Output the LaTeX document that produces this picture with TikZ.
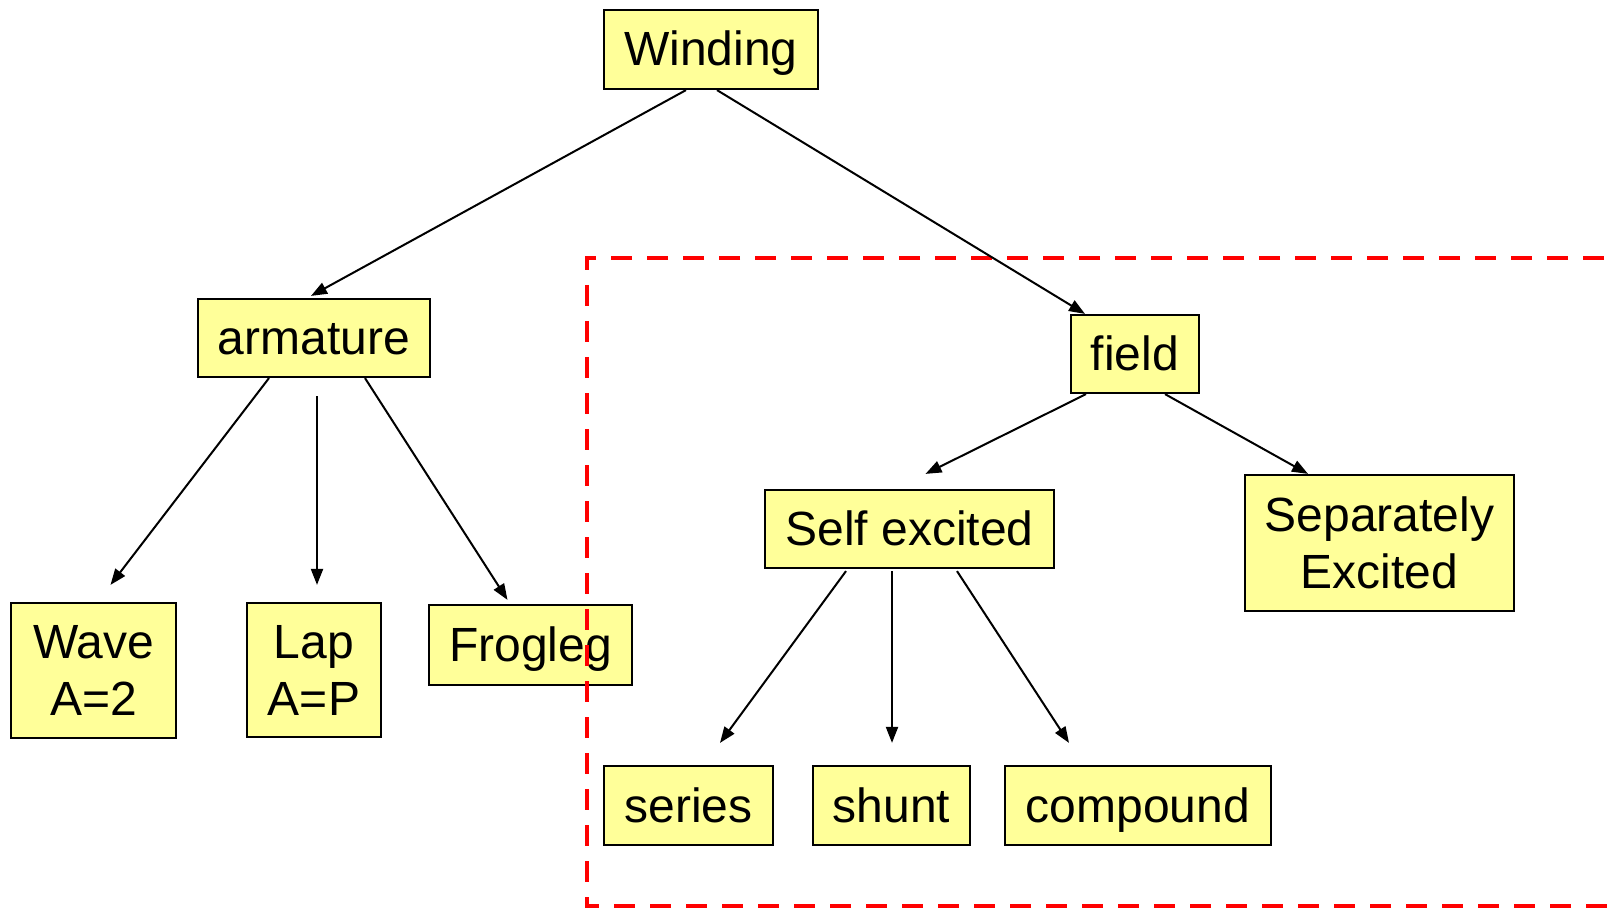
\documentclass[tikz,border=0pt]{standalone}
\usepackage{fontspec}
\setmainfont{Liberation Sans}
\usetikzlibrary{arrows.meta}
\definecolor{boxfill}{HTML}{FFFF99}
\definecolor{zone}{HTML}{FF0000}
\begin{document}
\begin{tikzpicture}[x=1pt,y=-1pt,
  box/.style={draw=black,line width=2.2pt,fill=boxfill,inner sep=0pt,
    align=center,font=\fontsize{48}{57}\selectfont},
  oneline/.style={box,text height=35pt,text depth=2pt},
  link/.style={line width=2pt,-{Triangle[length=16pt,width=12pt]}},
  zoneline/.style={draw=zone,line width=4.5pt,dash pattern=on 21pt off 15pt}]
\useasboundingbox[fill=white] (0,0) rectangle (1612,909);

% tree of boxes
\node[oneline,minimum width=214pt,minimum height=79pt] (winding) at (711,49.5) {Winding};
\node[oneline,minimum width=232pt,minimum height=78pt] (armature) at (314,338) {armature};
\node[oneline,minimum width=128pt,minimum height=78pt] (field) at (1135,354) {field};
\node[oneline,minimum width=289pt,minimum height=78pt] (self) at (909.5,529) {Self excited};
\node[box,minimum width=269pt,minimum height=136pt] (sep) at (1379.5,543) {Separately\\Excited};
\node[box,minimum width=165pt,minimum height=135pt] (wave) at (93.5,670.5) {Wave\\A=2};
\node[box,minimum width=134pt,minimum height=134pt] (lap) at (314,670) {Lap\\A=P};
\node[oneline,minimum width=203pt,minimum height=80pt] (frog) at (530.5,645) {Frogleg};
\node[oneline,minimum width=169pt,minimum height=79pt] (series) at (688.5,805.5) {series};
\node[oneline,minimum width=157pt,minimum height=79pt] (shunt) at (891.5,805.5) {shunt};
\node[oneline,minimum width=266pt,minimum height=79pt] (compound) at (1138,805.5) {compound};

% dashed frame around the field branch
\coordinate (zoneTR) at (1640,258);
\coordinate (zoneTL) at (587,258);
\coordinate (zoneBL) at (587,906);
\coordinate (zoneBR) at (1640,906);
\draw[zoneline] (zoneTR) -- (zoneTL) -- (zoneBL) -- (zoneBR);

% connectors
\draw[link] ([xshift=-25pt]winding.south) -- ([xshift=-3pt,yshift=2pt]armature.north);
\draw[link] ([xshift=6pt]winding.south) -- ([xshift=-50pt]field.north);
\draw[link] ([xshift=-45pt]armature.south) -- ([xshift=17pt,yshift=17pt]wave.north);
\draw[link] ([xshift=3pt,yshift=-18pt]armature.south) -- ([xshift=3pt,yshift=17pt]lap.north);
\draw[link] ([xshift=51pt]armature.south) -- ([xshift=-23pt,yshift=4pt]frog.north);
\draw[link] ([xshift=-49pt]field.south) -- ([xshift=16pt,yshift=15pt]self.north);
\draw[link] ([xshift=30pt]field.south) -- ([xshift=-71.5pt]sep.north);
\draw[link] ([xshift=-63.5pt,yshift=-2pt]self.south) -- ([xshift=31.5pt,yshift=22pt]series.north);
\draw[link] ([xshift=-17.5pt,yshift=-2pt]self.south) -- ([xshift=0.5pt,yshift=22pt]shunt.north);
\draw[link] ([xshift=47.5pt,yshift=-2pt]self.south) -- ([xshift=-69pt,yshift=22pt]compound.north);
\end{tikzpicture}
\end{document}
